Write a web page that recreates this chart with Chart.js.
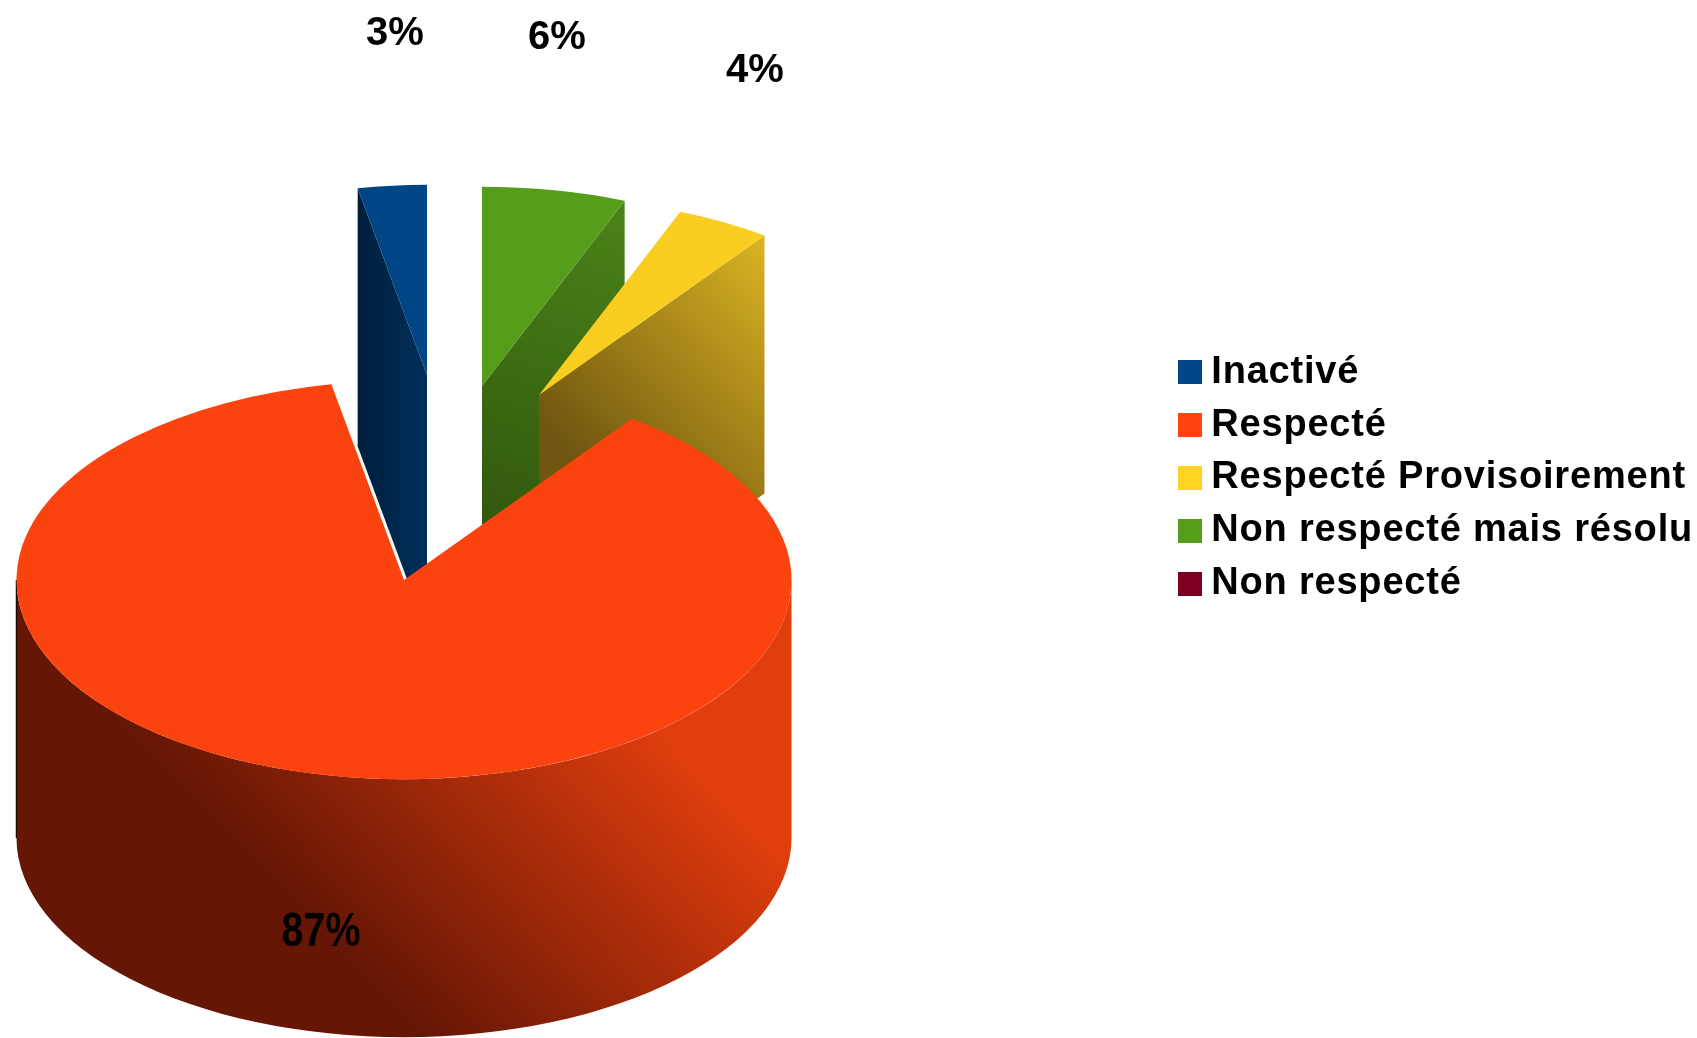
<!DOCTYPE html>
<html>
<head>
<meta charset="utf-8">
<script src="https://cdn.jsdelivr.net/npm/chart.js@4"></script>
<style>
  html, body { margin: 0; background: #fff; }
  #box { width: 1697px; height: 1038px; }
  #pie3d { filter: blur(0.6px); }
</style>
</head>
<body>
<div id="box"><canvas id="pie3d"></canvas></div>
<script>
const categories = ['Inactivé', 'Respecté', 'Respecté Provisoirement', 'Non respecté mais résolu', 'Non respecté'];
const percents = [3, 87, 4, 6, 0];
const colors = ['#004586', '#fb430f', '#f9ce20', '#579d1c', '#7e0021'];
const legendColors = ['#004586', '#ff420e', '#ffd320', '#579d1c', '#7e0021'];

// look of each slice, same order as categories
const explode = [[23, -205], [0, 0], [135, -185], [78, -194], [0, 0]];
const sliceScale = [0.955, 1, 0.99, 1, 1];
const sideGradients = [
  [356, 0, 426, 0, '#001e3b', '#002f5b'],
  [165, 765, 440, 500, '#651605', '#e03e0d'],
  [527, 405, 741, 208, '#705610', '#dcb523'],
  [481, 600, 624, 200, '#2c500c', '#4b8318'],
  null
];
const labelStyle = [
  { x: 395, y: 34, size: 40, squeeze: 1 },
  { x: 321, y: 933, size: 48, squeeze: 0.82 },
  { x: 755, y: 71, size: 40, squeeze: 1 },
  { x: 557, y: 38, size: 40, squeeze: 1 },
  null
];

const centerX = 404, centerY = 580, squish = 0.514, depth = 258, radius = 387.5;

function swatch(color) {
  const c = document.createElement('canvas');
  c.width = 24;
  c.height = 24;
  const g = c.getContext('2d');
  g.fillStyle = color;
  g.fillRect(0, 0, 24, 24);
  return c;
}

// chart.js only goes clockwise, the original runs the other way
function reversed(list) {
  return list.slice().reverse();
}

const pie3d = {
  id: 'pie3d',
  beforeLayout(chart) {
    chart.ctx.letterSpacing = '0.8px';
  },
  beforeDatasetsDraw(chart) {
    const ctx = chart.ctx;
    const arcs = chart.getDatasetMeta(0).data;
    const n = arcs.length;
    const order = arcs.map((a, i) => i).sort((a, b) => explode[n - 1 - a][1] - explode[n - 1 - b][1]);
    order.forEach(i => {
      const arc = arcs[i];
      const src = n - 1 - i;
      if (arc.circumference === 0 || percents[src] === 0) return;
      const ax = centerX + explode[src][0];
      const ay = centerY + explode[src][1];
      const r = arc.outerRadius * sliceScale[src];
      drawSides(ctx, arc, ax, ay, r, src);
      ctx.save();
      ctx.translate(ax, ay);
      ctx.scale(sliceScale[src], squish * sliceScale[src]);
      ctx.translate(-arc.x, -arc.y);
      arc.draw(ctx);
      ctx.restore();
    });
    return false;
  },
  afterDraw(chart) {
    const ctx = chart.ctx;
    ctx.save();
    ctx.letterSpacing = '0px';
    ctx.fillStyle = '#000';
    ctx.textAlign = 'center';
    ctx.textBaseline = 'middle';
    percents.forEach((v, i) => {
      const s = labelStyle[i];
      if (!s) return;
      ctx.save();
      ctx.font = 'bold ' + s.size + 'px "Liberation Sans"';
      ctx.translate(s.x, s.y);
      ctx.scale(s.squeeze, 1);
      ctx.fillText(v + '%', 0, 0);
      ctx.restore();
    });
    ctx.restore();
  }
};

function drawSides(ctx, arc, ax, ay, r, src) {
  const g = sideGradients[src];
  const grad = ctx.createLinearGradient(g[0], g[1], g[2], g[3]);
  grad.addColorStop(0, g[4]);
  grad.addColorStop(1, g[5]);
  ctx.fillStyle = grad;

  const radial = angle => {
    const ox = ax + Math.cos(angle) * r;
    const oy = ay + Math.sin(angle) * r * squish;
    ctx.beginPath();
    ctx.moveTo(ax, ay);
    ctx.lineTo(ox, oy);
    ctx.lineTo(ox, oy + depth);
    ctx.lineTo(ax, ay + depth);
    ctx.closePath();
    ctx.fill();
  };
  // only the faces turned to the viewer
  if (Math.sin(arc.startAngle - Math.PI / 2) > 0.01) radial(arc.startAngle);
  if (Math.sin(arc.endAngle + Math.PI / 2) > 0.01) radial(arc.endAngle);

  const lo = Math.max(arc.startAngle, 0);
  const hi = Math.min(arc.endAngle, Math.PI);
  if (lo < hi) {
    ctx.beginPath();
    ctx.ellipse(ax, ay, r, r * squish, 0, lo, hi);
    ctx.ellipse(ax, ay + depth, r, r * squish, 0, hi, lo, true);
    ctx.closePath();
    ctx.fill();
    ctx.strokeStyle = '#1c0a04';
    ctx.lineWidth = 1.5;
    ctx.beginPath();
    ctx.moveTo(ax - r, ay);
    ctx.lineTo(ax - r, ay + depth);
    ctx.stroke();
  }
}

const pieConfig = {
  type: 'pie',
  data: {
    labels: reversed(categories),
    datasets: [{
      data: reversed(percents),
      backgroundColor: reversed(colors),
      borderWidth: 0,
      radius: radius
    }]
  },
  options: {
    responsive: false,
    animation: false,
    events: [],
    layout: { padding: { bottom: 82, right: -6 } },
    plugins: {
      tooltip: { enabled: false },
      legend: {
        position: 'right',
        align: 'center',
        reverse: true,
        labels: {
          color: '#000',
          font: { family: '"Liberation Sans"', size: 38, weight: 'bold' },
          usePointStyle: true,
          pointStyleWidth: 4,
          boxHeight: 24,
          padding: 14.9,
          generateLabels(chart) {
            const items = Chart.overrides.doughnut.plugins.legend.labels.generateLabels(chart);
            items.forEach((item, i) => {
              item.pointStyle = swatch(reversed(legendColors)[i]);
            });
            return items;
          }
        }
      }
    }
  },
  plugins: [pie3d]
};

const canvas = document.getElementById('pie3d');
canvas.width = 1697;
canvas.height = 1038;
new Chart(canvas, pieConfig);
</script>
</body>
</html>
